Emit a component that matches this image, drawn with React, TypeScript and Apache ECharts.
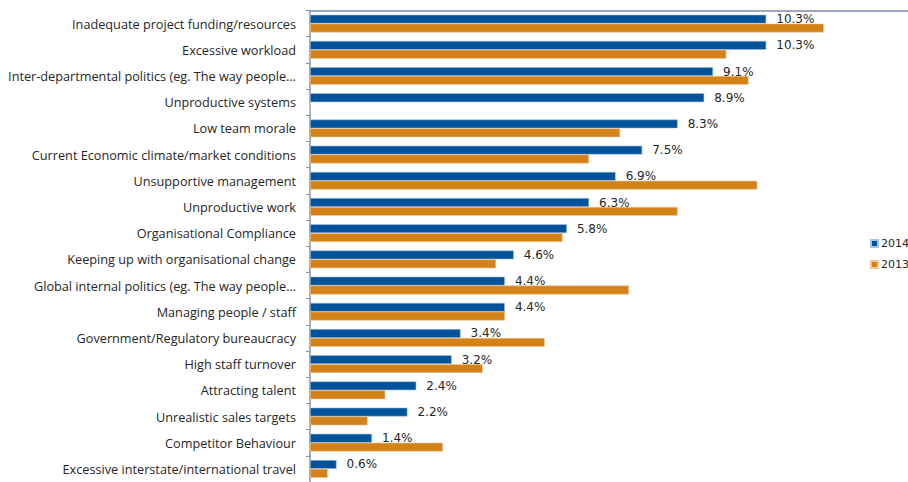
import React, { useEffect, useRef } from "react";
import * as echarts from "echarts";

const categories = [
  "Inadequate project funding/resources",
  "Excessive workload",
  "Inter-departmental politics (eg. The way people…",
  "Unproductive systems",
  "Low team morale",
  "Current Economic climate/market conditions",
  "Unsupportive management",
  "Unproductive work",
  "Organisational Compliance",
  "Keeping up with organisational change",
  "Global internal politics (eg. The way people…",
  "Managing people / staff",
  "Government/Regulatory bureaucracy",
  "High staff turnover",
  "Attracting talent",
  "Unrealistic sales targets",
  "Competitor Behaviour",
  "Excessive interstate/international travel",
];

const values2014 = [10.3, 10.3, 9.1, 8.9, 8.3, 7.5, 6.9, 6.3, 5.8, 4.6, 4.4, 4.4, 3.4, 3.2, 2.4, 2.2, 1.4, 0.6];
const values2013 = [11.6, 9.4, 9.9, 0, 7.0, 6.3, 10.1, 8.3, 5.7, 4.2, 7.2, 4.4, 5.3, 3.9, 1.7, 1.3, 3.0, 0.4];

const seriesNames = ["2014", "2013"];

export default function App() {
  const ref = useRef<HTMLDivElement>(null);
  useEffect(() => {
    if (!ref.current) return;
    const chart = echarts.init(ref.current, undefined, { renderer: "svg" });
    chart.setOption({
      animation: false,
      backgroundColor: "#ffffff",
      grid: { left: 310, right: 0, top: 10.5, bottom: 0, containLabel: false },
      legend: {
        orient: "vertical",
        left: 865,
        top: 233,
        itemWidth: 7,
        itemHeight: 7,
        itemGap: 10,
        icon: "rect",
        data: seriesNames,
        textStyle: { fontFamily: "DejaVu Sans", fontSize: 11, color: "#262626", padding: [0, 0, 0, -2] },
      },
      xAxis: {
        type: "value",
        position: "top",
        min: 0,
        max: 13.5,
        axisLine: { show: true, lineStyle: { color: "#7F8AAB", width: 1.5 } },
        axisTick: { show: false },
        axisLabel: { show: false },
        splitLine: { show: false },
      },
      yAxis: {
        type: "category",
        inverse: true,
        data: categories,
        axisLine: { show: true, lineStyle: { color: "#8C93A8", width: 1.5 } },
        axisTick: { show: true, length: 4, lineStyle: { color: "#8C93A8" } },
        axisLabel: {
          margin: 14,
          fontFamily: "Open Sans",
          fontSize: 12.7,
          color: "#262626",
        },
      },
      series: [
        {
          name: seriesNames[0],
          type: "bar",
          data: values2014,
          barGap: "0%",
          barCategoryGap: "32%",
          itemStyle: { color: "#00529B", borderColor: "#A9C2E0", borderWidth: 0.6 },
          label: {
            show: true,
            position: "right",
            distance: 10,
            formatter: (p: any) => p.value.toFixed(1) + "%",
            fontFamily: "DejaVu Sans",
            fontSize: 12,
            color: "#262626",
          },
        },
        {
          name: seriesNames[1],
          type: "bar",
          data: values2013,
          barGap: "0%",
          barCategoryGap: "32%",
          itemStyle: { color: "#D3821A", borderColor: "#F0C89A", borderWidth: 0.6 },
        },
      ],
    });
    return () => chart.dispose();
  }, []);
  return (
    <div
      ref={ref}
      style={{ position: "fixed", left: 0, top: 0, width: 908, height: 482, background: "#fff" }}
    />
  );
}
